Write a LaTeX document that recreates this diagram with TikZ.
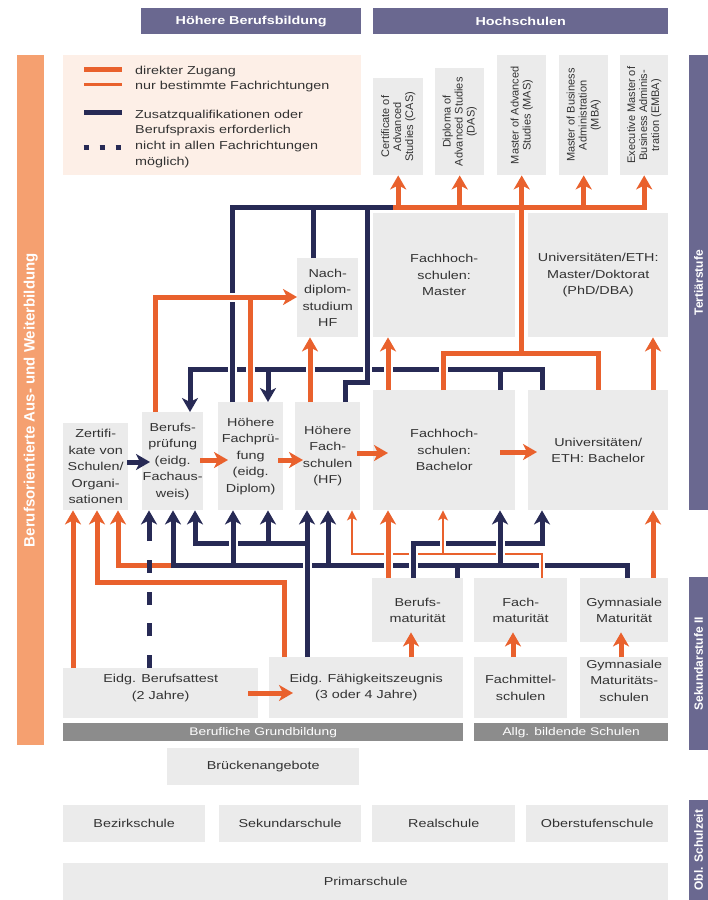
\documentclass[tikz,border=0pt]{standalone}
\usepackage{fontspec}
\setmainfont[FakeStretch=1.25]{Liberation Sans}
\newfontfamily\rotfont{Liberation Sans}
\usetikzlibrary{arrows.meta}
\definecolor{orc}{HTML}{E9612D}
\definecolor{nvy}{HTML}{272A55}
\definecolor{boxg}{HTML}{EBEBEB}
\definecolor{hdrc}{HTML}{6A6890}
\definecolor{lbarc}{HTML}{F5A070}
\definecolor{legc}{HTML}{FDEFE7}
\definecolor{gbarc}{HTML}{8C8C8C}
\definecolor{txtc}{HTML}{333333}
\newcommand\mkbox[7]{\node[#1,anchor=north west,minimum width=(#5-#3)*1pt,minimum height=(#6-#4)*1pt] (#2) at (#3,#4) {#7};}
\newcommand\gapV[2]{\fill[white] (#1-4.5,#2-3.5) rectangle (#1+4.5,#2+3.5);}
\newcommand\gapVt[2]{\fill[white] (#1-3.25,#2-3.5) rectangle (#1+3.25,#2+3.5);}
\newcommand\gapVl[2]{\fill[white] (#1-4.5,#2-2.25) rectangle (#1+4.5,#2+2.25);}
\newcommand\gapH[2]{\fill[white] (#1-3.5,#2-4.5) rectangle (#1+3.5,#2+4.5);}
\tikzset{
 box/.style={fill=boxg,inner sep=0pt,align=center,text=txtc,font=\fontsize{11.5}{16.5}\selectfont},
 hdr/.style={fill=hdrc,inner sep=0pt,text=white,font=\bfseries\fontsize{11.5}{14}\selectfont},
 legbox/.style={fill=legc,inner sep=0pt},
 gbar/.style={fill=gbarc,inner sep=0pt,text=white,font=\fontsize{11}{13}\selectfont},
 lbarst/.style={fill=lbarc,inner sep=0pt},
 rbarst/.style={fill=hdrc,inner sep=0pt},
 rot/.style={rotate=90,inner sep=0pt,align=center,text=txtc,font=\rotfont\fontsize{11}{12}\selectfont},
 vlab/.style={rotate=90,inner sep=0pt,text=white,font=\rotfont\bfseries\fontsize{12}{12}\selectfont},
 legt/.style={anchor=west,inner sep=0pt,align=left,text=txtc,font=\fontsize{11.5}{15.6}\selectfont},
 txt/.style={inner sep=0pt,align=center,text=txtc,font=\fontsize{11.5}{16.5}\selectfont},
 othick/.style={draw=orc,line width=5pt},
 othin/.style={draw=orc,line width=2.5pt},
 nthick/.style={draw=nvy,line width=5pt},
 oarr/.style={othick,-{Stealth[length=14pt,width=16pt,inset=4pt]}},
 othinarr/.style={othin,-{Stealth[length=10pt,width=10pt,inset=2.5pt]}},
 narr/.style={nthick,-{Stealth[length=14pt,width=16pt,inset=4pt]}},
 ndash/.style={nthick,dash pattern=on 13pt off 18.75pt},
}
\begin{document}
\begin{tikzpicture}[x=1pt,y=-1pt]
\fill[white] (0,0) rectangle (708,900);
\useasboundingbox (0,0) rectangle (708,900);
% boxes
\mkbox{hdr}{hbb}{141}{8}{361}{34}{Höhere Berufsbildung}
\mkbox{hdr}{hsch}{373}{8}{668}{34}{Hochschulen}
\mkbox{legbox}{leg}{63}{55}{361}{175}{}
\mkbox{box}{cas}{373}{78}{423}{175}{}
\mkbox{box}{das}{435}{68}{484}{175}{}
\mkbox{box}{mas}{497}{55}{546}{175}{}
\mkbox{box}{mba}{559}{55}{608}{175}{}
\mkbox{box}{emba}{620}{55}{668}{175}{}
\mkbox{box}{fhm}{373}{213}{515}{337}{Fachhoch-\\schulen:\\Master}
\mkbox{box}{unim}{528}{213}{668}{337}{Universitäten/ETH:\\Master/Doktorat\\(PhD/DBA)}
\mkbox{box}{nds}{297}{258}{358}{337}{Nach-\\diplom-\\studium\\HF}
\mkbox{box}{zert}{63}{423}{128}{510}{Zertifi-\\kate von\\Schulen/\\Organi-\\sationen}
\mkbox{box}{bp}{142}{412}{203}{510}{Berufs-\\prüfung\\(eidg.\\Fachaus-\\weis)}
\mkbox{box}{hfp}{218}{402}{283}{510}{Höhere\\Fachprü-\\fung\\(eidg.\\Diplom)}
\mkbox{box}{hf}{295}{402}{360}{510}{Höhere\\Fach-\\schulen\\(HF)}
\mkbox{box}{fhb}{373}{390}{515}{510}{Fachhoch-\\schulen:\\Bachelor}
\mkbox{box}{unib}{528}{390}{668}{510}{Universitäten/\\ETH: Bachelor}
\mkbox{box}{bm}{372}{578}{463}{642}{Berufs-\\maturität}
\mkbox{box}{fm}{474}{578}{567}{642}{Fach-\\maturität}
\mkbox{box}{gm}{580}{578}{668}{642}{Gymnasiale\\Maturität}
\mkbox{box}{eba}{63}{668}{258}{718}{}
\mkbox{box}{efz}{269}{657}{463}{718}{Eidg. Fähigkeitszeugnis\\(3 oder 4 Jahre)}
\mkbox{box}{fms}{474}{657}{567}{718}{Fachmittel-\\schulen}
\mkbox{box}{gms}{580}{657}{668}{718}{}
\mkbox{gbar}{bgb}{63}{723}{463}{741}{Berufliche Grundbildung}
\mkbox{gbar}{abs}{474}{723}{668}{741}{Allg. bildende Schulen}
\mkbox{box}{brueck}{167}{748}{359}{785}{Brückenangebote}
\mkbox{box}{bez}{63}{805}{205}{842}{Bezirkschule}
\mkbox{box}{sek}{219}{805}{361}{842}{Sekundarschule}
\mkbox{box}{real}{372}{805}{515}{842}{Realschule}
\mkbox{box}{ober}{526}{805}{668}{842}{Oberstufenschule}
\mkbox{box}{prim}{63}{863}{668}{900}{Primarschule}
\mkbox{lbarst}{lbar}{17}{55}{44}{745}{}
\mkbox{rbarst}{tert}{689}{55}{708}{510}{}
\mkbox{rbarst}{sek2}{689}{577}{708}{750}{}
\mkbox{rbarst}{obl}{689}{800}{708}{900}{}
\node[txt] (eba-t) at ([yshift=5pt]eba.center) {Eidg. Berufsattest\\(2 Jahre)};
\node[txt] (gms-t) at ([yshift=7pt]gms.center) {Gymnasiale\\Maturitäts-\\schulen};
% rotated texts
\node[rot] (cas-t) at (cas.center) {Certificate of\\Advanced\\Studies (CAS)};
\node[rot] (das-t) at (das.center) {Diploma of\\Advanced Studies\\(DAS)};
\node[rot] (mas-t) at (mas.center) {Master of Advanced\\Studies (MAS)};
\node[rot] (mba-t) at (mba.center) {Master of Business\\Administration\\(MBA)};
\node[rot] (emba-t) at (emba.center) {Executive Master of\\Business Adminis-\\tration (EMBA)};
\node[vlab,font=\rotfont\bfseries\fontsize{15}{15}\selectfont] (lbar-t) at (lbar.center) {Berufsorientierte Aus- und Weiterbildung};
\node[vlab] (tert-t) at (tert.center) {Tertiärstufe};
\node[vlab] (sek2-t) at (sek2.center) {Sekundarstufe II};
\node[vlab] (obl-t) at (obl.center) {Obl. Schulzeit};
% legend
\node[legt] (l1) at (135,72) {direkter Zugang};
\node[legt] (l2) at (135,87) {nur bestimmte Fachrichtungen};
\node[legt] (l3) at (135,123) {Zusatzqualifikationen oder\\Berufspraxis erforderlich};
\node[legt] (l4) at (135,154.5) {nicht in allen Fachrichtungen\\möglich)};
\draw[othick] (84,69) -- (122,69);
\draw[othin] (84,84.5) -- (122,84.5);
\draw[nthick] (84,112) -- (122,112);
\draw[nthick,dash pattern=on 5pt off 11pt] (83.5,147) -- (120.5,147);
% ---------- top lines
\draw[narr] (542,0 |- unib.north) -- (542,369) -- (190,369) -- (190,0 |- bp.north);
\draw[nthick] (500,0 |- fhb.north) -- (500,369);
\draw[narr] (268,369) -- (268,0 |- hfp.north);
\gapV{232}{369}\gapV{250}{369}\gapV{310}{369}\gapV{367}{369}\gapV{388}{369}\gapV{443}{369}
\draw[nthick] (232,0 |- hfp.north) -- (232,207) -- (396,207);
\draw[nthick] (313,0 |- nds.north) -- (313,207);
\draw[nthick] (345,0 |- hf.north) -- (345,382) -- (367,382) -- (367,207);
\gapH{232}{297}
\draw[oarr] (155,0 |- bp.north) -- (155,297) -- (nds.west |- 0,297);
\draw[othick] (250,0 |- hfp.north) -- (250,297);
\draw[oarr] (310,0 |- hf.north) -- (310,0 |- nds.south);
\draw[othick] (443,0 |- fhb.north) -- (443,353) -- (598,353) -- (598,0 |- unib.north);
\draw[othick] (521,353) -- (521,207);
\draw[oarr] (388,0 |- fhb.north) -- (388,0 |- fhm.south);
\draw[oarr] (653,0 |- unib.north) -- (653,0 |- unim.south);
\draw[oarr] (393,207) -- (emba.south |- 0,207) -- (emba.south);
\foreach \b in {cas,das,mas,mba} \draw[oarr] (\b.south |- 0,207) -- (\b.south);
% ---------- middle arrows
\draw[narr,shorten <=-1pt,shorten >=-8pt] (zert.east |- 0,462) -- (bp.west |- 0,462);
\draw[oarr,shorten <=-3pt,shorten >=-10pt] (bp.east |- 0,460) -- (hfp.west |- 0,460);
\draw[oarr,shorten <=-5pt,shorten >=-8pt] (hfp.east |- 0,460) -- (hf.west |- 0,460);
\draw[oarr,shorten <=-3pt,shorten >=-15pt] (hf.east |- 0,453) -- (fhb.west |- 0,453);
\draw[oarr,shorten <=-15pt,shorten >=-9pt] (fhb.east |- 0,452) -- (unib.west |- 0,452);
% ---------- bottom lines
\draw[narr] (627,0 |- gm.north) -- (627,565) -- (173,565) -- (173,0 |- bp.south);
\draw[nthick] (457,0 |- bm.north) -- (457,565);
\draw[narr] (328,565) -- (328,0 |- hf.south);
\draw[narr] (307,543) -- (195,543) -- (195,0 |- bp.south);
\draw[narr] (268,543) -- (268,0 |- hfp.south);
\gapV{307}{565}\gapVt{542}{565}\gapV{413}{565}\gapV{388}{565}\gapV{233}{543}
\draw[narr] (307,0 |- efz.north) -- (307,0 |- hf.south);
\draw[narr] (233,565) -- (233,0 |- hfp.south);
\draw[othinarr] (542,0 |- fm.north) -- (542,554) -- (352,554) -- (352,0 |- hf.south);
\gapVl{413}{554}\gapVl{388}{554}\gapVl{500}{554}
\draw[narr] (413,0 |- bm.north) -- (413,543) -- (542,543) -- (542,0 |- unib.south);
\gapVt{443}{543}\gapV{500}{543}
\draw[othinarr] (443,554) -- (443,0 |- fhb.south);
\draw[narr] (500,565) -- (500,0 |- fhb.south);
\draw[oarr] (388,0 |- bm.north) -- (388,0 |- fhb.south);
\draw[oarr] (653,0 |- gm.north) -- (653,0 |- unib.south);
\draw[oarr] (73,0 |- eba.north) -- (73,0 |- zert.south);
\draw[oarr] (284,0 |- efz.north) -- (284,582) -- (97,582) -- (97,0 |- zert.south);
\draw[oarr] (170.5,565) -- (118,565) -- (118,0 |- zert.south);
\draw[ndash] (149,0 |- eba.north) -- (149,559.75);
\draw[narr] (149,541) -- (149,0 |- bp.south);
\draw[oarr,shorten <=-10pt,shorten >=-24pt] (eba.east |- 0,693) -- (efz.west |- 0,693);
\draw[oarr,shorten >=-10pt] (411,0 |- efz.north) -- (411,0 |- bm.south);
\draw[oarr,shorten >=-10pt] (513,0 |- fms.north) -- (513,0 |- fm.south);
\draw[oarr,shorten >=-10pt] (621,0 |- gms.north) -- (621,0 |- gm.south);
\end{tikzpicture}
\end{document}
